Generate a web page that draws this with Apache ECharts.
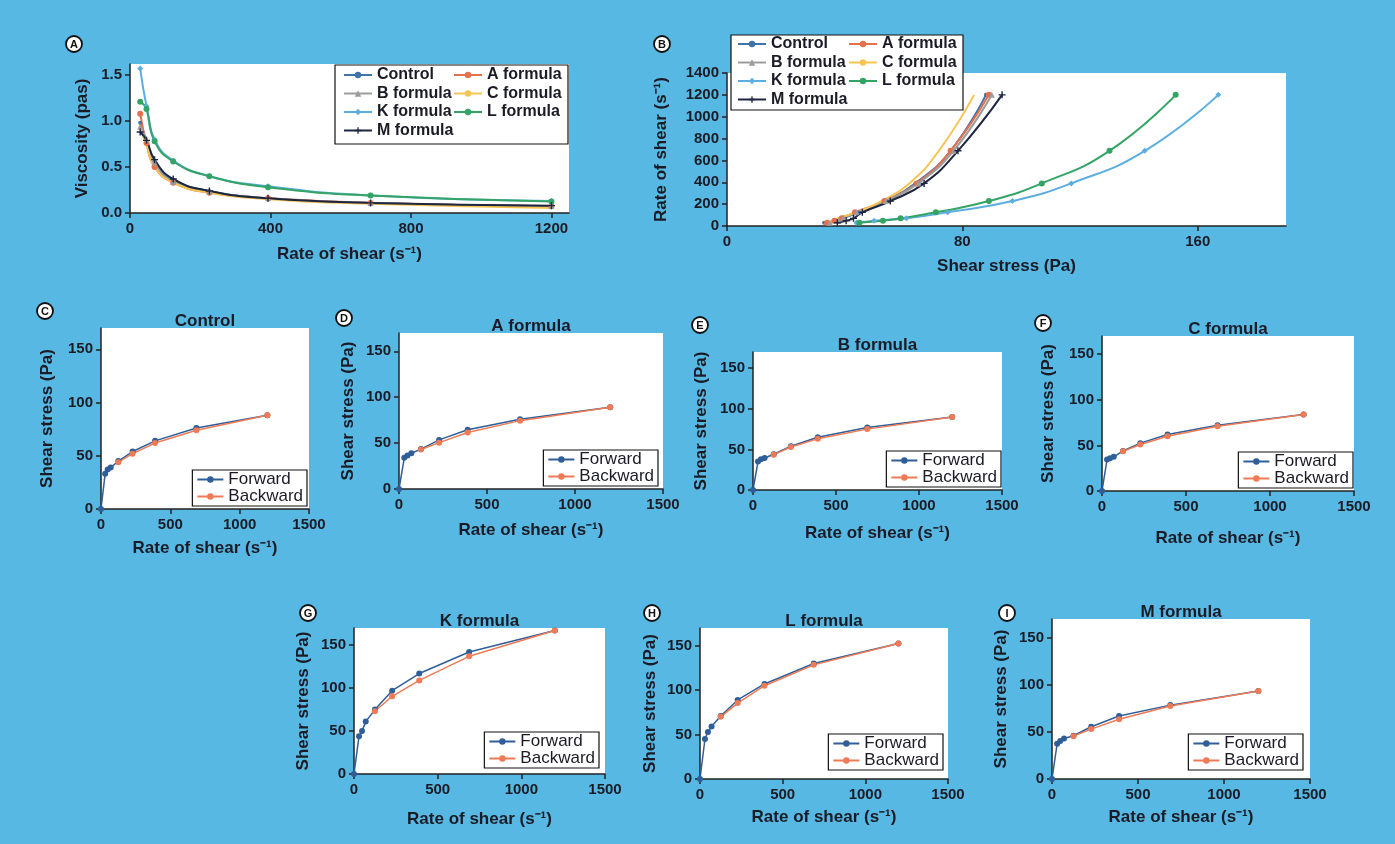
<!DOCTYPE html>
<html>
<head>
<meta charset="utf-8">
<title>Rheology of formulas</title>
<script src="https://cdn.jsdelivr.net/npm/echarts@6/dist/echarts.min.js"></script>
<style>
	html, body { margin: 0; padding: 0; background: #57b8e3; }
	#main { width: 1395px; height: 844px; }
</style>
</head>
<body>
<div id="main"></div>
<script>
// ---- data ----
// panel A: viscosity (pas) against rate of shear
var rateVisc = [29, 47, 70, 123, 226, 393, 685, 1200];
var viscControl = [0.98, 0.78, 0.56, 0.36, 0.24, 0.16, 0.11, 0.074];
var viscA = [1.08, 0.76, 0.50, 0.33, 0.22, 0.16, 0.11, 0.074];
var viscB = [0.94, 0.80, 0.55, 0.34, 0.23, 0.16, 0.11, 0.075];
var viscC = [0.92, 0.74, 0.50, 0.33, 0.22, 0.15, 0.10, 0.055];
var viscK = [1.57, 1.16, 0.80, 0.57, 0.40, 0.29, 0.19, 0.13];
var viscL = [1.21, 1.13, 0.78, 0.56, 0.40, 0.28, 0.19, 0.125];
var viscM = [0.88, 0.79, 0.58, 0.37, 0.24, 0.16, 0.11, 0.08];

// panels C-I: shear stress (Pa), forward and backward sweeps
var rateFwd = [0, 30, 48, 70, 125, 228, 390, 688, 1200];
var rateBwd = [125, 228, 390, 688, 1200];
var fwdControl = [0, 33, 37, 39, 45, 54, 64, 76, 88];
var bwdControl = [44, 52, 62, 74, 88];
var fwdA = [0, 34, 36.5, 39, 43.5, 53.5, 64.5, 76, 89];
var bwdA = [43, 50.5, 61.5, 74.5, 89];
var fwdB = [0, 35, 38, 39.5, 44, 54, 65, 77, 90];
var bwdB = [43.5, 53, 63, 75, 90];
var fwdC = [0, 34.5, 36, 37.5, 44, 52.5, 62, 72, 84];
var bwdC = [43.5, 51, 60, 71, 84];
var fwdK = [0, 44, 50, 61, 75, 97, 117, 142, 167];
var bwdK = [73, 90.5, 109, 137, 167];
var fwdL = [0, 45, 53, 59, 71, 89, 107, 130, 152.5];
var bwdL = [70, 85.5, 105, 128.5, 152.5];
var fwdM = [0, 37.5, 40.5, 43, 46, 55.5, 67, 78.5, 93.5];
var bwdM = [45.5, 53, 63.5, 77.5, 93.5];

var formulaNames = ['Control', 'A formula', 'B formula', 'C formula', 'K formula', 'L formula', 'M formula'];
var panelTitles = ['Control', 'A formula', 'B formula', 'C formula', 'K formula', 'L formula', 'M formula'];
var sweepNames = ['Forward', 'Backward'];

var ticksVisc = [0, 0.5, 1.0, 1.5];
var ticksRateA = [0, 400, 800, 1200];
var ticksStressB = [0, 80, 160];
var ticksRateB = [0, 200, 400, 600, 800, 1000, 1200, 1400];
var ticksRate = [0, 500, 1000, 1500];
var ticksStress = [0, 50, 100, 150];

var RATE_NAME = 'Rate of shear (s\u207B\u00B9)';
var STRESS_NAME = 'Shear stress (Pa)';

// ---- styling ----
var W = 1395, H = 844;
var INK = '#1b1b26';
var FONT = '"Liberation Sans", Arial, sans-serif';
var formulaColors = ['#3f74a8', '#e4704c', '#9c9c9c', '#f4c553', '#5caee0', '#34a466', '#1e2640'];
var PLUS = 'path://M4,0H6V4H10V6H6V10H4V6H0V4H4Z';
var formulaSymbols = ['circle', 'circle', 'triangle', 'none', 'diamond', 'circle', PLUS];
var formulaSymbolSize = [4, 6, 6, 0, 6, 6, 7];

var grids = [], xAxes = [], yAxes = [], series = [], legends = [], titles = [], graphics = [];

function addGrid(left, top, width, height) {
	grids.push({
		left : left, top : top, width : width, height : height,
		show : true, backgroundColor : '#fff', borderWidth : 0,
		outerBoundsMode : 'none'
	});
	return grids.length - 1;
}

function plain(v) {
	return String(v);
}

function makeAxis(gi, max, ticks, name, nameGap, fmt) {
	return {
		type : 'value',
		gridIndex : gi,
		min : 0,
		max : max,
		name : name,
		nameLocation : 'middle',
		nameGap : nameGap,
		nameTextStyle : { color : INK, fontSize : 17, fontWeight : 'bold', fontFamily : FONT },
		splitLine : { show : false },
		axisLine : { show : true, onZero : false, lineStyle : { color : '#222', width : 1.5 } },
		axisTick : { show : true, length : 5, customValues : ticks, lineStyle : { color : '#222', width : 1.5 } },
		axisLabel : { color : INK, fontSize : 15, fontWeight : 'bold', fontFamily : FONT, margin : 8,
			customValues : ticks, formatter : fmt || plain }
	};
}

function circleLabel(cx, cy, letter) {
	graphics.push({
		type : 'circle', z : 10,
		shape : { cx : cx, cy : cy, r : 8 },
		style : { fill : '#fff', stroke : '#111', lineWidth : 1.8 }
	});
	graphics.push({
		type : 'text', z : 11, x : cx, y : cy + 0.5,
		style : { text : letter, fill : '#111', font : 'bold 11px ' + FONT, align : 'center', verticalAlign : 'middle' }
	});
}

function pairs(xs, ys) {
	return xs.map(function(x, i) { return [x, ys[i]]; });
}

function formulaLegend(left, top, names) {
	legends.push({
		data : names, orient : 'vertical', left : left, top : top,
		itemWidth : 28, itemHeight : 8, itemGap : 2.5, padding : 0,
		textStyle : { color : INK, fontSize : 16, fontWeight : 'bold', fontFamily : FONT }
	});
}

// ---- panel A: viscosity ----
var gA = addGrid(130, 64, 439, 149);
xAxes.push(makeAxis(gA, 1250, ticksRateA, RATE_NAME, 33));
yAxes.push(makeAxis(gA, 1.62, ticksVisc, 'Viscosity (pas)', 39, function(v) { return v.toFixed(1); }));
var viscSets = [viscControl, viscA, viscB, viscC, viscK, viscL, viscM];
viscSets.forEach(function(vals, i) {
	series.push({
		type : 'line', name : formulaNames[i], xAxisIndex : 0, yAxisIndex : 0,
		data : pairs(rateVisc, vals), smooth : true,
		symbol : formulaSymbols[i], symbolSize : formulaSymbolSize[i],
		itemStyle : { color : formulaColors[i] },
		lineStyle : { color : formulaColors[i], width : 2 }
	});
});
graphics.push({ type : 'rect', z : 3, shape : { x : 335, y : 65, width : 233, height : 79 },
	style : { fill : '#fff', stroke : '#111', lineWidth : 1.2 } });
formulaLegend(343, 67, ['Control', 'B formula', 'K formula', 'M formula']);
formulaLegend(453, 67, ['A formula', 'C formula', 'L formula']);
circleLabel(74, 44, 'A');

// ---- panel B: rate of shear against shear stress ----
var gB = addGrid(727, 73, 559, 153);
xAxes.push(makeAxis(gB, 190, ticksStressB, STRESS_NAME, 32));
yAxes.push(makeAxis(gB, 1400, ticksRateB, RATE_NAME, 57));
var fwdSets = [fwdControl, fwdA, fwdB, fwdC, fwdK, fwdL, fwdM];
fwdSets.forEach(function(vals, i) {
	series.push({
		type : 'line', name : formulaNames[i], xAxisIndex : 1, yAxisIndex : 1,
		data : pairs(vals.slice(1), rateFwd.slice(1)), smooth : true,
		symbol : formulaSymbols[i], symbolSize : formulaSymbolSize[i],
		itemStyle : { color : formulaColors[i] },
		lineStyle : { color : formulaColors[i], width : 2 }
	});
});
graphics.push({ type : 'rect', z : 3, shape : { x : 731, y : 35, width : 232, height : 75 },
	style : { fill : '#fff', stroke : '#111', lineWidth : 1.2 } });
formulaLegend(737, 36, ['Control', 'B formula', 'K formula', 'M formula']);
formulaLegend(848, 36, ['A formula', 'C formula', 'L formula']);
circleLabel(662, 44, 'B');

// ---- panels C-I: forward / backward sweeps ----
var bwdSets = [bwdControl, bwdA, bwdB, bwdC, bwdK, bwdL, bwdM];
var panels = [
	{ letter : 'C', left : 101, top : 328, w : 208, h : 181, lgr : 307, lgb : 506, xGap : 31, yGap : 45, cx : 45, cy : 311 },
	{ letter : 'D', left : 399, top : 333, w : 264, h : 156, lgr : 658, lgb : 486, xGap : 33, yGap : 42, cx : 344, cy : 318 },
	{ letter : 'E', left : 753, top : 352, w : 249, h : 138, lgr : 1001, lgb : 487, xGap : 35, yGap : 43, cx : 700, cy : 325 },
	{ letter : 'F', left : 1102, top : 336, w : 252, h : 155, lgr : 1353, lgb : 488, xGap : 39, yGap : 45, cx : 1043, cy : 323 },
	{ letter : 'G', left : 354, top : 628, w : 251, h : 146, lgr : 599, lgb : 768, xGap : 37, yGap : 42, cx : 308, cy : 613 },
	{ letter : 'H', left : 700, top : 628, w : 248, h : 151, lgr : 943, lgb : 770, xGap : 30, yGap : 41, cx : 652, cy : 613 },
	{ letter : 'I', left : 1052, top : 619, w : 258, h : 160, lgr : 1303, lgb : 770, xGap : 30, yGap : 42, cx : 1007, cy : 613 }
];

panels.forEach(function(p, i) {
	var gi = addGrid(p.left, p.top, p.w, p.h);
	var ai = xAxes.length;
	xAxes.push(makeAxis(gi, 1500, ticksRate, RATE_NAME, p.xGap));
	yAxes.push(makeAxis(gi, 170, ticksStress, STRESS_NAME, p.yGap));
	series.push({
		type : 'line', name : sweepNames[0], xAxisIndex : ai, yAxisIndex : ai,
		data : pairs(rateFwd, fwdSets[i]), symbol : 'circle', symbolSize : 6,
		itemStyle : { color : '#2f5e98' }, lineStyle : { color : '#2f5e98', width : 1.5 }
	});
	series.push({
		type : 'line', name : sweepNames[1], xAxisIndex : ai, yAxisIndex : ai,
		data : pairs(rateBwd, bwdSets[i]), symbol : 'circle', symbolSize : 6,
		itemStyle : { color : '#ee7b55' }, lineStyle : { color : '#ee7b55', width : 1.5 }
	});
	titles.push({
		text : panelTitles[i], left : p.left + p.w / 2, top : p.top - 15, textAlign : 'center', padding : 0,
		textStyle : { color : INK, fontSize : 17, fontWeight : 'bold', fontFamily : FONT }
	});
	legends.push({
		data : sweepNames, orient : 'vertical', right : W - p.lgr, bottom : H - p.lgb,
		itemWidth : 26, itemHeight : 8, itemGap : 0, padding : [1, 4, 1, 4],
		backgroundColor : '#fff', borderColor : '#111', borderWidth : 1.2,
		textStyle : { color : INK, fontSize : 17, fontFamily : FONT }
	});
	circleLabel(p.cx, p.cy, p.letter);
});

var myChart = echarts.init(document.getElementById('main'), null, { renderer : 'canvas' });
myChart.setOption({
	backgroundColor : '#57b8e3',
	animation : false,
	textStyle : { fontFamily : FONT },
	title : titles,
	legend : legends,
	grid : grids,
	xAxis : xAxes,
	yAxis : yAxes,
	series : series,
	graphic : graphics
});
</script>
</body>
</html>
